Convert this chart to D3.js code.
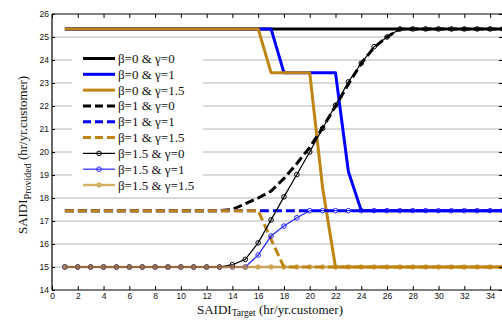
<!DOCTYPE html>
<html><head><meta charset="utf-8">
<script src="https://cdn.jsdelivr.net/npm/d3@7"></script>
<style>
html,body{margin:0;padding:0;background:#fff;}
svg{display:block;}
</style></head>
<body><svg id="c" width="502" height="320"></svg>
<script>
// ---- data ----
const xTarget = [1,2,3,4,5,6,7,8,9,10,11,12,13,14,15,16,17,18,19,20,21,22,23,24,25,26,27,28,29,30,31,32,33,34,35];
const b0g0   = [25.35,25.35,25.35,25.35,25.35,25.35,25.35,25.35,25.35,25.35,25.35,25.35,25.35,25.35,25.35,25.35,25.35,25.35,25.35,25.35,25.35,25.35,25.35,25.35,25.35,25.35,25.35,25.35,25.35,25.35,25.35,25.35,25.35,25.35,25.35];
const b0g1   = [25.35,25.35,25.35,25.35,25.35,25.35,25.35,25.35,25.35,25.35,25.35,25.35,25.35,25.35,25.35,25.35,25.35,23.45,23.45,23.45,23.45,23.45,19.15,17.45,17.45,17.45,17.45,17.45,17.45,17.45,17.45,17.45,17.45,17.45,17.45];
const b0g15  = [25.35,25.35,25.35,25.35,25.35,25.35,25.35,25.35,25.35,25.35,25.35,25.35,25.35,25.35,25.35,25.35,23.45,23.45,23.45,23.45,18.45,15,15,15,15,15,15,15,15,15,15,15,15,15,15];
const b1g0   = [17.45,17.45,17.45,17.45,17.45,17.45,17.45,17.45,17.45,17.45,17.45,17.45,17.45,17.5,17.75,18.0,18.3,18.85,19.5,20.2,21.05,22.0,22.95,23.85,24.55,25.0,25.35,25.35,25.35,25.35,25.35,25.35,25.35,25.35,25.35];
const b1g1   = [17.45,17.45,17.45,17.45,17.45,17.45,17.45,17.45,17.45,17.45,17.45,17.45,17.45,17.45,17.45,17.45,17.45,17.45,17.45,17.45,17.45,17.45,17.45,17.45,17.45,17.45,17.45,17.45,17.45,17.45,17.45,17.45,17.45,17.45,17.45];
const b1g15  = [17.45,17.45,17.45,17.45,17.45,17.45,17.45,17.45,17.45,17.45,17.45,17.45,17.45,17.45,17.45,17.45,16.2,15,15,15,15,15,15,15,15,15,15,15,15,15,15,15,15,15,15];
const b15g0  = [15,15,15,15,15,15,15,15,15,15,15,15,15,15.1,15.33,16.05,17.05,18.05,19.02,20.0,21.03,22.03,23.05,23.86,24.58,25.0,25.35,25.35,25.35,25.35,25.35,25.35,25.35,25.35,25.35];
const b15g1  = [15,15,15,15,15,15,15,15,15,15,15,15,15,15,15,15.52,16.35,16.78,17.14,17.45,17.45,17.45,17.45,17.45,17.45,17.45,17.45,17.45,17.45,17.45,17.45,17.45,17.45,17.45,17.45];
const b15g15 = [15,15,15,15,15,15,15,15,15,15,15,15,15,15,15,15,15,15,15,15,15,15,15,15,15,15,15,15,15,15,15,15,15,15,15];
const legendLabels = ["β=0 & γ=0","β=0 & γ=1","β=0 & γ=1.5","β=1 & γ=0","β=1 & γ=1","β=1 & γ=1.5","β=1.5 & γ=0","β=1.5 & γ=1","β=1.5 & γ=1.5"];
const xTicks = [0,2,4,6,8,10,12,14,16,18,20,22,24,26,28,30,32,34];
const yTicks = [14,15,16,17,18,19,20,21,22,23,24,25,26];

// ---- styles ----
const BLACK="#000000", BLUE="#0000ff", GOLD="#bf8512";
const series = [
  {v:b0g0,  c:BLACK, w:3, dash:null, mk:false},
  {v:b0g1,  c:BLUE,  w:3, dash:null, mk:false},
  {v:b0g15, c:GOLD,  w:3, dash:null, mk:false},
  {v:b1g0,  c:BLACK, w:3, dash:"9,4", mk:false},
  {v:b1g1,  c:BLUE,  w:3, dash:"9,4", mk:false},
  {v:b1g15, c:GOLD,  w:3, dash:"9,4", mk:false},
  {v:b15g0, c:BLACK, w:1.2, dash:null, mk:true, fill:"none", op:1},
  {v:b15g1, c:BLUE,  w:1.2, dash:null, mk:true, fill:"none", op:0.85},
  {v:b15g15,c:GOLD,  w:2.4, dash:null, mk:true, fill:GOLD, op:0.65},
];

const svg = d3.select("#c");
const L=52, R=503, T=14, B=290;
const x = d3.scaleLinear().domain([0,35]).range([L,R]);
const y = d3.scaleLinear().domain([14,26]).range([B,T]);

// grid
svg.append("g").selectAll("line").data(yTicks.filter(d=>d>14&&d<26)).join("line")
  .attr("x1",L).attr("x2",R).attr("y1",d=>y(d)).attr("y2",d=>y(d))
  .attr("stroke","#b4b4b4").attr("stroke-width",1);

// legend background
svg.append("rect").attr("x",72).attr("y",50).attr("width",131).attr("height",141).attr("fill","#fff");

// series
const line = d3.line().x((d,i)=>x(xTarget[i])).y(d=>y(d));
series.forEach(s=>{
  const g = svg.append("g").attr("opacity", s.op||1);
  g.append("path").datum(s.v).attr("d",line).attr("fill","none")
    .attr("stroke",s.c).attr("stroke-width",s.w)
    .attr("stroke-dasharray",s.dash).attr("stroke-linejoin","round");
  if(s.mk){
    g.selectAll("circle").data(s.v).join("circle")
      .attr("cx",(d,i)=>x(xTarget[i])).attr("cy",d=>y(d)).attr("r",2.3)
      .attr("fill",s.fill).attr("stroke",s.c).attr("stroke-width",1);
  }
});

// axes
const axFont = "'Liberation Sans', Arial, sans-serif";
const gx = svg.append("g").attr("transform",`translate(0,${B})`)
  .call(d3.axisBottom(x).tickValues(xTicks).tickSize(-4).tickPadding(3).tickFormat(d3.format("d")));
const gxt = svg.append("g").attr("transform",`translate(0,${T})`)
  .call(d3.axisTop(x).tickValues(xTicks).tickSize(-4).tickFormat(""));
const gy = svg.append("g").attr("transform",`translate(${L},0)`)
  .call(d3.axisLeft(y).tickValues(yTicks).tickSize(-3).tickPadding(3).tickFormat(d3.format("d")));
const gyr = svg.append("g").attr("transform",`translate(${R},0)`)
  .call(d3.axisRight(y).tickValues(yTicks).tickSize(-4).tickFormat(""));
[gx,gxt,gy,gyr].forEach(g=>{
  g.select(".domain").attr("stroke","#000").attr("stroke-width",1.2);
  g.selectAll(".tick line").attr("stroke","#000").attr("stroke-width",1);
  g.selectAll("text").attr("font-family",axFont).attr("font-size","8.5px").attr("fill","#111");
});
gx.select(".domain").attr("d",`M${L},0H${R}`);
gxt.select(".domain").attr("d",`M${L},0H${R}`);
gy.select(".domain").attr("d",`M0,${B}V${T}`);
gyr.select(".domain").attr("d",`M0,${B}V${T}`);

// legend
const serif = "'Liberation Serif','Times New Roman',serif";
const lg = svg.append("g");
const rowY = d3.scaleLinear().domain([0,8]).range([58.5,185]);
legendLabels.forEach((lab,i)=>{
  const s = series[i], yy = rowY(i);
  const g = lg.append("g").attr("opacity", s.op||1);
  g.append("line").attr("x1",83).attr("x2",115).attr("y1",yy).attr("y2",yy)
    .attr("stroke",s.c).attr("stroke-width",Math.min(s.w,3)).attr("stroke-dasharray",s.dash? "8,4":null);
  if(s.mk) g.append("circle").attr("cx",99).attr("cy",yy).attr("r",2.3)
    .attr("fill",s.fill).attr("stroke",s.c).attr("stroke-width",1);
  lg.append("text").attr("x",118).attr("y",yy+4.5).text(lab)
    .attr("font-family",serif).attr("font-size","13px").attr("fill","#111");
});

// axis titles
const xt = svg.append("text").attr("x",270).attr("y",313.5).attr("text-anchor","middle")
  .attr("font-family",serif).attr("font-size","13px").attr("fill","#111");
xt.append("tspan").text("SAIDI");
xt.append("tspan").text("Target").attr("font-size","9.5px").attr("dy",2.5);
xt.append("tspan").text(" (hr/yr.customer)").attr("dy",-2.5);

const yt = svg.append("text").attr("transform","translate(27,155) rotate(-90)").attr("text-anchor","middle")
  .attr("font-family",serif).attr("font-size","13px").attr("fill","#111");
yt.append("tspan").text("SAIDI");
yt.append("tspan").text("Provided").attr("font-size","10px").attr("dy",4);
yt.append("tspan").text(" (hr/yr.customer)").attr("dy",-4);
</script></body></html>
